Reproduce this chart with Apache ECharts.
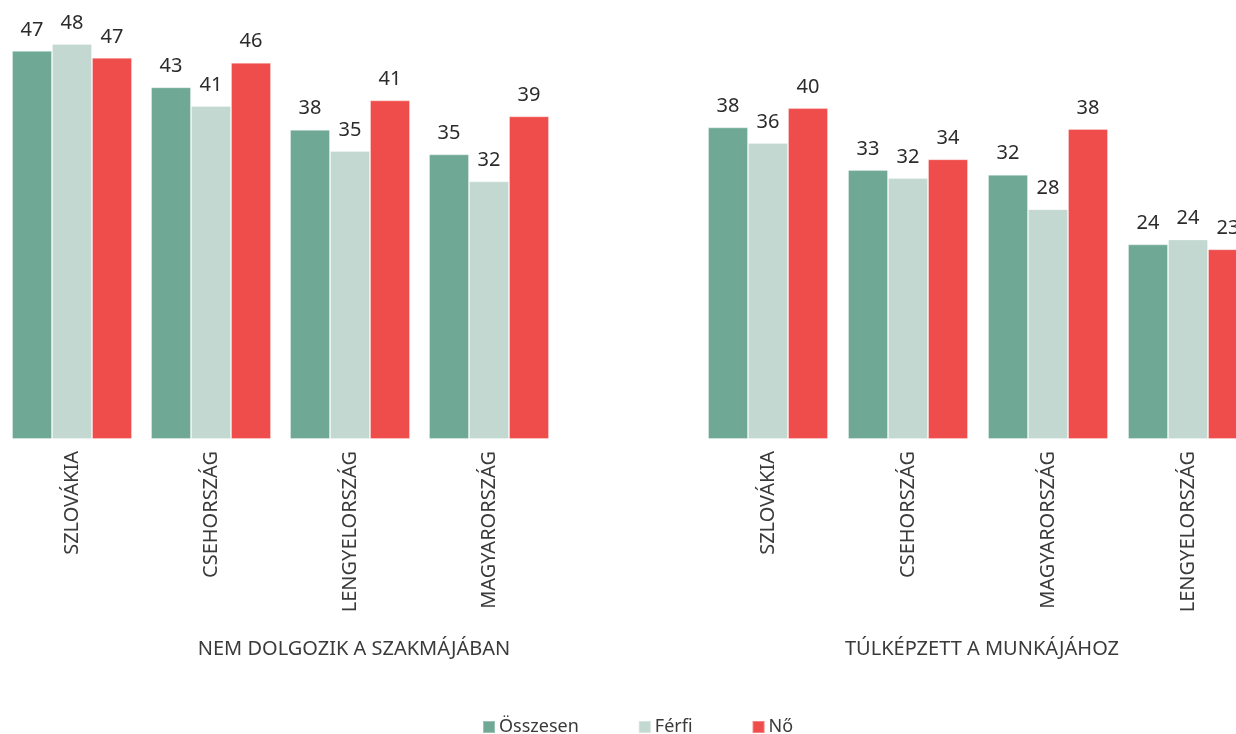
<!DOCTYPE html>
<html>
<head>
<meta charset="utf-8">
<script src="https://cdn.jsdelivr.net/npm/echarts@6/dist/echarts.min.js"></script>
<style>
  html, body { margin: 0; padding: 0; background: #fff; overflow: hidden; }
  /* a rajz jobb széle túllóg az ablakon, mint az eredetin */
  #chart { width: 1270px; height: 734px; }
</style>
</head>
<body>
<div id="chart"></div>
<script>
// adatok
const leftCats = ['SZLOVÁKIA', 'CSEHORSZÁG', 'LENGYELORSZÁG', 'MAGYARORSZÁG']
const rightCats = ['SZLOVÁKIA', 'CSEHORSZÁG', 'MAGYARORSZÁG', 'LENGYELORSZÁG']
const leftTotal = [47.45, 43.0, 37.8, 34.8]
const leftMen = [48.3, 40.7, 35.2, 31.5]
const leftWomen = [46.6, 46.0, 41.4, 39.45]
const rightTotal = [38.1, 32.9, 32.3, 23.8]
const rightMen = [36.2, 31.9, 28.1, 24.4]
const rightWomen = [40.45, 34.2, 37.9, 23.2]
const seriesNames = ['Összesen', 'Férfi', 'Nő']
const groupTitles = ['NEM DOLGOZIK A SZAKMÁJÁBAN', 'TÚLKÉPZETT A MUNKÁJÁHOZ']

const colors = ['#6fa996', '#c2d8d0', '#ef4d4b']
const font = '"Noto Sans", sans-serif'

const chart = echarts.init(document.getElementById('chart'))

function barSeries(name, data, idx, color) {
  return {
    name: name,
    type: 'bar',
    xAxisIndex: idx,
    yAxisIndex: idx,
    barWidth: 40,
    barGap: '0%',
    data: data,
    itemStyle: { color: color, borderColor: 'rgba(255,255,255,0.3)', borderWidth: 1 },
    label: {
      show: true,
      position: 'top',
      distance: 11,
      color: '#2b2b2b',
      fontSize: 20,
      fontFamily: font,
      formatter: (p) => Math.round(p.value)
    }
  }
}

function catAxis(data, idx) {
  return {
    type: 'category',
    gridIndex: idx,
    data: data,
    axisLine: { show: false },
    axisTick: { show: false },
    axisLabel: {
      rotate: 90,
      interval: 0,
      margin: 12,
      color: '#3a3a3a',
      fontSize: 20,
      fontFamily: font
    }
  }
}

function valAxis(idx) {
  return {
    type: 'value',
    gridIndex: idx,
    min: 0,
    max: 50,
    show: false,
    splitLine: { show: false }
  }
}

const titleStyle = { fontSize: 20, fontWeight: 'normal', color: '#3a3a3a', fontFamily: font }

const option = {
  animation: false,
  color: colors,
  textStyle: { fontFamily: font },
  title: [
    { text: groupTitles[0], left: 349, top: 634, textAlign: 'center', textStyle: titleStyle },
    { text: groupTitles[1], left: 977, top: 634, textAlign: 'center', textStyle: titleStyle }
  ],
  legend: {
    data: seriesNames,
    left: 482,
    top: 718,
    padding: 0,
    itemWidth: 12,
    itemHeight: 12,
    itemGap: 59,
    icon: 'rect',
    textStyle: { fontSize: 18, color: '#3a3a3a', fontFamily: font, padding: [0, 0, 0, -1] }
  },
  grid: [
    { left: 2.5, width: 556, top: 30, bottom: 295 },
    { left: 698, width: 560, top: 30, bottom: 295 }
  ],
  xAxis: [catAxis(leftCats, 0), catAxis(rightCats, 1)],
  yAxis: [valAxis(0), valAxis(1)],
  series: [
    barSeries(seriesNames[0], leftTotal, 0, colors[0]),
    barSeries(seriesNames[1], leftMen, 0, colors[1]),
    barSeries(seriesNames[2], leftWomen, 0, colors[2]),
    barSeries(seriesNames[0], rightTotal, 1, colors[0]),
    barSeries(seriesNames[1], rightMen, 1, colors[1]),
    barSeries(seriesNames[2], rightWomen, 1, colors[2])
  ]
}

chart.setOption(option)
</script>
</body>
</html>
